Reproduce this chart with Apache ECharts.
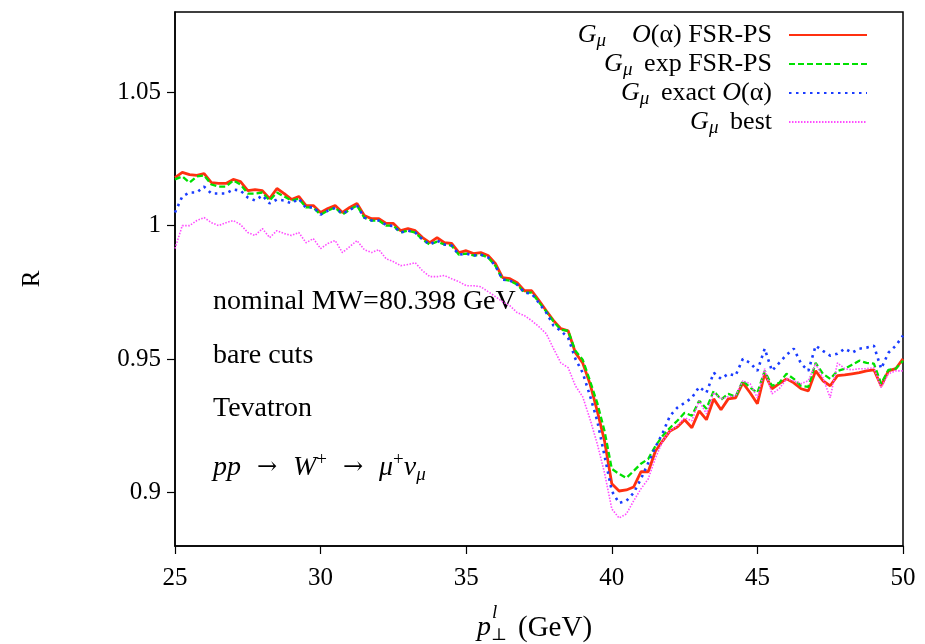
<!DOCTYPE html>
<html>
<head>
<meta charset="utf-8">
<script src="https://cdn.jsdelivr.net/npm/echarts@6/dist/echarts.min.js"></script>
<style>html,body{margin:0;padding:0;background:#fff;}#c{width:925px;height:644px;}</style>
</head>
<body>
<div id="c"></div>
<script>
// p_T^l (GeV)
const pt = [25.00,25.25,25.50,25.75,26.00,26.25,26.50,26.75,27.00,27.25,27.50,27.75,28.00,28.25,28.50,28.75,29.00,29.25,29.50,29.75,
30.00,30.25,30.50,30.75,31.00,31.25,31.50,31.75,32.00,32.25,32.50,32.75,33.00,33.25,33.50,33.75,34.00,34.25,34.50,34.75,
35.00,35.25,35.50,35.75,36.00,36.25,36.50,36.75,37.00,37.25,37.50,37.75,38.00,38.25,38.50,38.75,39.00,39.25,39.50,39.75,
40.00,40.25,40.50,40.75,41.00,41.25,41.50,41.75,42.00,42.25,42.50,42.75,43.00,43.25,43.50,43.75,44.00,44.25,44.50,44.75,
45.00,45.25,45.50,45.75,46.00,46.25,46.50,46.75,47.00,47.25,47.50,47.75,48.00,48.25,48.50,48.75,49.00,49.25,49.50,49.75,50.00];

// G_mu O(alpha) FSR-PS
const fsrO = [1.0180,1.0199,1.0191,1.0188,1.0195,1.0161,1.0158,1.0158,1.0173,1.0165,1.0131,1.0135,1.0131,1.0101,1.0139,1.0120,1.0098,1.0109,1.0075,1.0075,
1.0049,1.0064,1.0075,1.0049,1.0068,1.0083,1.0038,1.0026,1.0026,1.0008,1.0008,0.9981,0.9989,0.9981,0.9955,0.9936,0.9955,0.9936,0.9933,0.9899,
0.9906,0.9895,0.9899,0.9888,0.9858,0.9805,0.9801,0.9786,0.9756,0.9756,0.9719,0.9681,0.9644,0.9614,0.9606,0.9524,0.9486,0.9408,0.9306,0.9194,
0.9033,0.9006,0.9010,0.9021,0.9078,0.9078,0.9156,0.9194,0.9231,0.9246,0.9273,0.9243,0.9306,0.9273,0.9351,0.9310,0.9351,0.9355,0.9411,0.9374,
0.9333,0.9445,0.9389,0.9408,0.9426,0.9411,0.9389,0.9381,0.9456,0.9419,0.9400,0.9438,0.9441,0.9445,0.9449,0.9456,0.9460,0.9400,0.9456,0.9464,0.9501];

// G_mu exp FSR-PS
const fsrExp = [1.0173,1.0184,1.0161,1.0184,1.0188,1.0154,1.0146,1.0146,1.0169,1.0154,1.0120,1.0120,1.0124,1.0094,1.0124,1.0109,1.0094,1.0101,1.0068,1.0068,
1.0041,1.0056,1.0068,1.0041,1.0060,1.0075,1.0030,1.0019,1.0019,1.0000,1.0000,0.9974,0.9981,0.9974,0.9948,0.9929,0.9940,0.9929,0.9925,0.9891,
0.9895,0.9888,0.9891,0.9881,0.9850,0.9798,0.9794,0.9779,0.9749,0.9749,0.9713,0.9678,0.9641,0.9610,0.9606,0.9531,0.9498,0.9419,0.9336,0.9231,
0.9089,0.9070,0.9055,0.9081,0.9108,0.9126,0.9175,0.9213,0.9243,0.9269,0.9299,0.9288,0.9344,0.9314,0.9381,0.9348,0.9370,0.9359,0.9419,0.9393,
0.9374,0.9456,0.9400,0.9411,0.9445,0.9426,0.9400,0.9396,0.9486,0.9445,0.9426,0.9456,0.9464,0.9479,0.9494,0.9486,0.9483,0.9408,0.9460,0.9464,0.9494];

// G_mu exact O(alpha)
const exactO = [1.0049,1.0109,1.0124,1.0124,1.0146,1.0120,1.0120,1.0120,1.0135,1.0131,1.0105,1.0094,1.0113,1.0083,1.0098,1.0094,1.0083,1.0101,1.0066,1.0070,
1.0041,1.0056,1.0066,1.0045,1.0058,1.0075,1.0030,1.0019,1.0019,1.0002,0.9998,0.9974,0.9981,0.9974,0.9948,0.9929,0.9944,0.9929,0.9925,0.9891,
0.9895,0.9888,0.9891,0.9881,0.9850,0.9798,0.9794,0.9779,0.9749,0.9745,0.9710,0.9674,0.9625,0.9606,0.9580,0.9501,0.9449,0.9363,0.9269,0.9138,
0.9006,0.8961,0.8969,0.8999,0.9051,0.9111,0.9171,0.9224,0.9288,0.9318,0.9336,0.9355,0.9396,0.9374,0.9449,0.9426,0.9445,0.9438,0.9501,0.9486,
0.9456,0.9539,0.9456,0.9486,0.9516,0.9539,0.9483,0.9456,0.9550,0.9531,0.9513,0.9520,0.9539,0.9524,0.9539,0.9543,0.9550,0.9464,0.9524,0.9550,0.9588];

// G_mu best
const best = [0.9914,1.0000,1.0000,1.0019,1.0030,1.0011,1.0000,1.0011,1.0019,1.0004,0.9974,0.9963,0.9989,0.9955,0.9981,0.9970,0.9963,0.9974,0.9936,0.9951,
0.9914,0.9933,0.9944,0.9899,0.9921,0.9944,0.9910,0.9899,0.9910,0.9876,0.9865,0.9850,0.9854,0.9861,0.9831,0.9809,0.9809,0.9813,0.9801,0.9790,
0.9775,0.9775,0.9771,0.9753,0.9734,0.9715,0.9700,0.9674,0.9663,0.9644,0.9621,0.9595,0.9539,0.9486,0.9468,0.9400,0.9359,0.9276,0.9183,0.9074,
0.8939,0.8905,0.8920,0.8969,0.9014,0.9051,0.9130,0.9194,0.9231,0.9250,0.9280,0.9269,0.9344,0.9295,0.9374,0.9351,0.9359,0.9363,0.9419,0.9408,
0.9355,0.9464,0.9370,0.9389,0.9426,0.9419,0.9408,0.9419,0.9483,0.9430,0.9355,0.9486,0.9464,0.9460,0.9464,0.9464,0.9468,0.9393,0.9445,0.9456,0.9456];

const xTicks = [25, 30, 35, 40, 45, 50];
const yTicks = [0.9, 0.95, 1, 1.05];

const FONT = 'Liberation Serif';
const pairs = arr => pt.map((x, i) => [x, arr[i]]);

const SP = '\u2002';
const GAP = ' \u2009';
const legendText = {
  r: '{i|G}{s|μ}' + SP + SP + '{i|O}(α) FSR-PS',
  g: '{i|G}{s|μ}' + GAP + 'exp FSR-PS',
  b: '{i|G}{s|μ}' + GAP + 'exact {i|O}(α)',
  m: '{i|G}{s|μ}' + GAP + 'best'
};

const chart = echarts.init(document.getElementById('c'), null, {renderer: 'canvas'});
chart.setOption({
  animation: false,
  backgroundColor: '#fff',
  grid: {left: 175, right: 22, top: 12, bottom: 98, show: true, borderColor: '#000', borderWidth: 1.5, backgroundColor: 'transparent'},
  xAxis: {
    type: 'value', min: 25, max: 50, interval: 5,
    axisLine: {show: true, lineStyle: {color: '#000', width: 1.5}},
    axisTick: {show: true, inside: false, length: 8, lineStyle: {color: '#000', width: 1.2}},
    axisLabel: {color: '#000', fontFamily: FONT, fontSize: 25, margin: 20},
    splitLine: {show: false}
  },
  yAxis: {
    type: 'value', min: 0.88, max: 1.08,
    name: 'R', nameLocation: 'middle', nameGap: 130, nameRotate: 90,
    nameTextStyle: {color: '#000', fontFamily: FONT, fontSize: 25},
    axisLine: {show: true, lineStyle: {color: '#000', width: 1.5}},
    axisTick: {show: true, inside: false, length: 8, customValues: yTicks, lineStyle: {color: '#000', width: 1.2}},
    axisLabel: {color: '#000', fontFamily: FONT, fontSize: 25, margin: 14, customValues: yTicks,
      formatter: v => String(Math.round(v * 100) / 100)},
    splitLine: {show: false}
  },
  legend: {
    orient: 'vertical', right: 52, top: 17, align: 'right',
    itemWidth: 78, itemHeight: 14, itemGap: 0.5,
    data: ['r', 'g', 'b', 'm'],
    itemStyle: {opacity: 0},
    lineStyle: {opacity: 1},
    formatter: n => legendText[n],
    textStyle: {color: '#000', fontFamily: FONT, fontSize: 26, padding: [0, 12, 0, 0],
      rich: {
        i: {fontFamily: FONT, fontStyle: 'italic', fontSize: 26},
        s: {fontFamily: FONT, fontStyle: 'italic', fontSize: 19, padding: [12, 0, 0, 0]}
      }}
  },
  series: [
    {name: 'r', type: 'line', data: pairs(fsrO), showSymbol: false, symbol: 'none',
      lineStyle: {color: '#ff3010', width: 2.8, type: 'solid'}, itemStyle: {color: '#ff3010'}},
    {name: 'g', type: 'line', data: pairs(fsrExp), showSymbol: false, symbol: 'none',
      lineStyle: {color: '#00e000', width: 2.3, type: [6, 3]}, itemStyle: {color: '#00e000'}},
    {name: 'b', type: 'line', data: pairs(exactO), showSymbol: false, symbol: 'none',
      lineStyle: {color: '#1a3cff', width: 2.6, type: [2.5, 4.5]}, itemStyle: {color: '#1a3cff'}},
    {name: 'm', type: 'line', data: pairs(best), showSymbol: false, symbol: 'none',
      lineStyle: {color: '#ff4cff', width: 1.6, type: [1.5, 1.5]}, itemStyle: {color: '#ff4cff'}}
  ],
  graphic: [
    {type: 'text', left: 213, top: 288, style: {text: 'nominal MW=80.398 GeV', font: '28px "Liberation Serif"', fill: '#000'}},
    {type: 'text', left: 213, top: 342, style: {text: 'bare cuts', font: '28px "Liberation Serif"', fill: '#000'}},
    {type: 'text', left: 213, top: 395, style: {text: 'Tevatron', font: '28px "Liberation Serif"', fill: '#000'}},
    {type: 'text', left: 213, top: 451, style: {
      text: '{i|pp}{a|→}{i|W}{p|+}{a|→}{i|μ}{p|+}{i|ν}{s|μ}',
      font: '28px "Liberation Serif"', fill: '#000',
      rich: {
        i: {fontFamily: FONT, fontStyle: 'italic', fontSize: 28},
        a: {fontFamily: 'DejaVu Serif', fontSize: 24, width: 52, align: 'center'},
        p: {fontFamily: FONT, fontSize: 19, padding: [0, 0, 15, 0]},
        s: {fontFamily: FONT, fontStyle: 'italic', fontSize: 19, padding: [13, 0, 0, 0]}
      }}},
    {type: 'group', left: 477, top: 603, children: [
      {type: 'text', x: 0, y: 12, style: {text: 'p', font: 'italic 28px "Liberation Serif"', fill: '#000'}},
      {type: 'text', x: 15, y: 1, style: {text: 'l', font: 'italic 19px "Liberation Serif"', fill: '#000'}},
      {type: 'text', x: 14, y: 25, style: {text: '⊥', font: '17px "DejaVu Serif"', fill: '#000'}},
      {type: 'text', x: 41, y: 12, style: {text: '(GeV)', font: '29px "Liberation Serif"', fill: '#000'}}
    ]}
  ]
});
</script>
</body>
</html>
